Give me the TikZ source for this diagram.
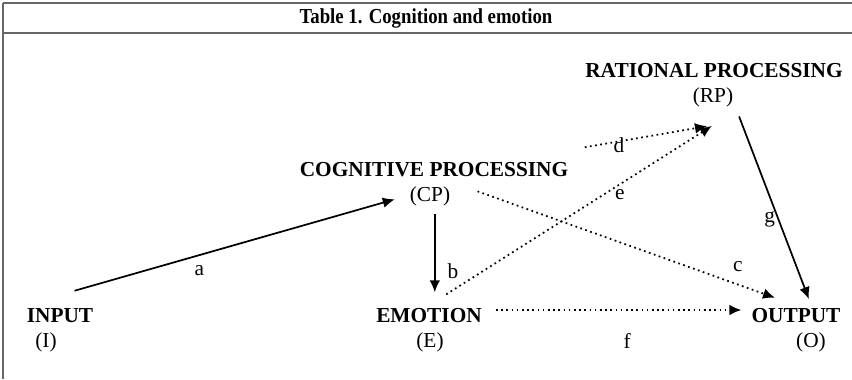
\documentclass[tikz,border=0pt]{standalone}
\usepackage{fontspec}
\setmainfont{Liberation Serif}
\usepackage{graphicx}
\usetikzlibrary{positioning,arrows.meta}

\begin{document}
\begin{tikzpicture}[%
        x=0.75pt, y=-0.75pt,
        every node/.style={inner sep=2pt, font=\fontsize{16}{19}\selectfont},
        heading/.style={font=\fontsize{16}{19}\selectfont\bfseries},
        frame/.style={draw=black!60, line width=1.2pt},
        dotline/.style={dash pattern=on 1.3pt off 2.6pt, line width=1.3pt},
        line width=1.3pt, >={Latex[length=9pt,width=8pt]}
      ]
      \useasboundingbox (0,0) rectangle (852,379);
      \draw [frame] (3,3) -- (852,3) (3,33) -- (852,33) (3,3) -- (3,379);
      \node [] (title) at (426,18) {\bfseries\scalebox{0.88}[1]{Table 1. Cognition and emotion}};
      \node [heading] (inp) at (60,316) {INPUT};
      \node [] (inpab) at (46,342) {(I)};
      \node [heading] (cog) at (434,170) {COGNITIVE PROCESSING};
      \node [] (cogab) at (430,196) {(CP)};
      \node [heading] (rat) at (714,71) {RATIONAL PROCESSING};
      \node [] (ratab) at (713,97) {(RP)};
      \node [heading] (emo) at (429,316) {EMOTION};
      \node [] (emoab) at (430,342) {(E)};
      \node [heading] (outp) at (796,316) {OUTPUT};
      \node [] (outab) at (811,342) {(O)};
      \path [draw] (inp.north west) edge[->, shorten <=40pt, shorten >=9pt]  node[pos=.46, below=5pt] {a} (cogab.west)
      (cogab.-70) edge[->, shorten <=3.75pt, shorten >=9.75pt]  node[pos=.65, right=7pt] {b} (cogab.-70 |- emo.north)
      (cogab.north east) edge[->, dotline, shorten <=19pt, shorten >=16.7pt]  node[pos=.83, above=7pt] {c} (outp.north)
      ([shift={(13,-12)}]cog.north east) edge[->, dotline]  node[pos=.28, yshift=-3pt] {d} ([shift={(-6,16)}]ratab.south)
      (emo.north) edge[->, dotline, shorten <=15.3pt, shorten >=22pt]  node[pos=.62, below=1pt] {e} (ratab.south east)
      ([yshift=4.5pt]emo.east) edge[->, dotline, shorten <=8pt, shorten >=5pt]  node[pos=.54, below=15pt] {f} ([yshift=4.5pt]outp.west)
      (ratab.south east) edge[->, shorten <=5pt, shorten >=5pt]  node[pos=.56, left] {g} (outp.35);
    \end{tikzpicture}
\end{document}
